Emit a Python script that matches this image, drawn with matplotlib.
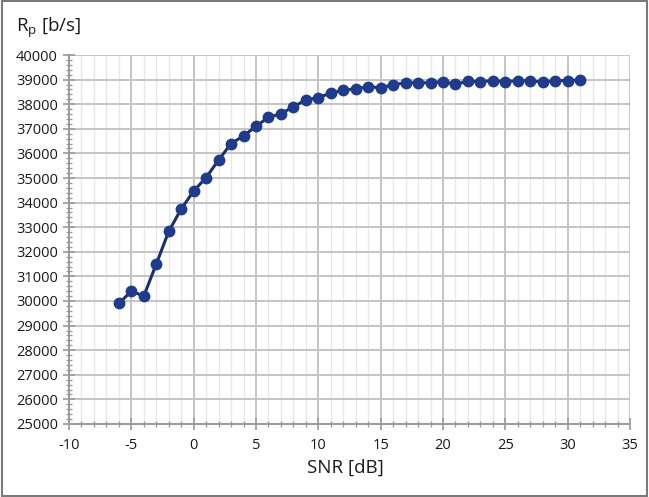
import matplotlib
matplotlib.use("Agg")
import matplotlib.pyplot as plt
from matplotlib.ticker import MultipleLocator
from matplotlib.patches import Rectangle

snr_db = [-6, -5, -4, -3, -2, -1, 0, 1, 2, 3, 4, 5, 6, 7, 8, 9, 10, 11, 12, 13,
          14, 15, 16, 17, 18, 19, 20, 21, 22, 23, 24, 25, 26, 27, 28, 29, 30, 31]
rate_bps = [29900, 30400, 30200, 31500, 32830, 33740, 34470, 35020, 35730, 36400,
            36710, 37100, 37470, 37610, 37900, 38170, 38270, 38450, 38570, 38630,
            38710, 38670, 38790, 38870, 38870, 38870, 38920, 38810, 38930, 38920,
            38960, 38920, 38960, 38960, 38900, 38960, 38960, 38980]

x_ticks = [-10, -5, 0, 5, 10, 15, 20, 25, 30, 35]
y_ticks = list(range(25000, 40001, 1000))

plt.rcParams['font.family'] = ['Open Sans', 'DejaVu Sans']
plt.rcParams['axes.unicode_minus'] = False

fig = plt.figure(figsize=(6.49, 4.97), dpi=100)
ax = fig.add_axes([0.1063, 0.1469, 0.8644, 0.7424])

ax.plot(snr_db, rate_bps, color='#1b2f6b', lw=2.2, marker='o', ms=7.5,
        markerfacecolor='#1f3c8c', markeredgecolor='#1f3c8c', zorder=3)

ax.set_xlim(-10, 35)
ax.set_ylim(25000, 40000)
ax.set_xticks(x_ticks)
ax.set_xticklabels([str(v) for v in x_ticks])
ax.set_yticks(y_ticks)
ax.set_yticklabels([str(v) for v in y_ticks])
ax.xaxis.set_minor_locator(MultipleLocator(1))
ax.yaxis.set_minor_locator(MultipleLocator(200))

ax.grid(which='major', color='#c4c4c4', lw=1.4)
ax.grid(which='minor', axis='x', color='#e8e8e8', lw=1.0)
ax.set_axisbelow(True)

for s in ['top', 'right']:
    ax.spines[s].set_visible(False)
for s in ['left', 'bottom']:
    ax.spines[s].set_color('#9a9a9a')
    ax.spines[s].set_linewidth(1.4)

ax.tick_params(which='major', direction='inout', length=8, width=1.2, color='#9a9a9a',
               labelsize=10.5, labelcolor='#1a1a1a', pad=4)
ax.tick_params(which='minor', direction='inout', length=5, width=1.0, color='#9a9a9a')
ax.tick_params(axis='x', pad=6)

fig.text(0.024, 0.945, r'R$_\mathregular{p}$ [b/s]', fontsize=13.5, color='#1a1a1a',
         ha='left', va='center')
fig.text(0.532, 0.058, 'SNR [dB]', fontsize=13.5, color='#1a1a1a', ha='center', va='center')

fig.patches.append(Rectangle((0.003, 0.003), 0.994, 0.994, transform=fig.transFigure,
                             fill=False, edgecolor='#7a7a7a', lw=1.5))

fig.savefig('out.png', dpi=100)
